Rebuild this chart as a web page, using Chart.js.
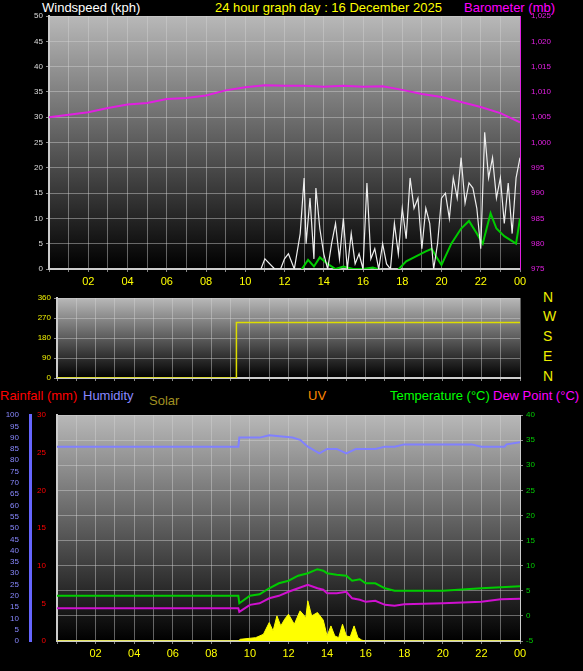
<!DOCTYPE html>
<html><head><meta charset="utf-8">
<script src="https://cdn.jsdelivr.net/npm/chart.js@4"></script>
<style>
body{margin:0;background:#000;width:583px;height:671px;overflow:hidden;font-family:"Liberation Sans",Arial,sans-serif}
canvas{position:absolute;left:0}
.t{position:absolute;font-size:13px;white-space:nowrap}
.d{position:absolute;left:543px;font-size:14px;color:#ee0}
</style></head><body>
<div class="t" style="left:42px;top:0;color:#fff">Windspeed (kph)</div>
<div class="t" style="left:215px;top:0;color:#ff0">24 hour graph day : 16 December 2025</div>
<div class="t" style="left:464px;top:0;color:#f0f">Barometer (mb)</div>
<div class="t" style="left:0;top:388px;color:#f00">Rainfall (mm)</div>
<div class="t" style="left:83px;top:388px;color:#88f">Humidity</div>
<div class="t" style="left:149px;top:393px;color:#a09020">Solar</div>
<div class="t" style="left:308px;top:388px;color:#f80">UV</div>
<div class="t" style="left:390px;top:388px;color:#0f0">Temperature (°C)</div>
<div class="t" style="left:493px;top:388px;color:#f0f">Dew Point (°C)</div>
<div class="d" style="top:289px">N</div><div class="d" style="top:308px">W</div><div class="d" style="top:328px">S</div><div class="d" style="top:348px">E</div><div class="d" style="top:368px">N</div>
<canvas id="c1" width="583" height="290" style="top:0"></canvas>
<canvas id="c2" width="583" height="100" style="top:290px"></canvas>
<canvas id="c3" width="583" height="281" style="top:390px"></canvas>
<script>
// hours of day 0..24
let baroHours=[0,1,2,3,4,5,6,7,8,9,10,11,12,13,14,15,16,17,18,19,20,21,22,23,24];
let baro=[1005,1005.5,1006,1006.8,1007.5,1007.8,1008.6,1008.8,1009.3,1010.3,1010.9,1011.3,1011.2,1011.2,1011,1011.2,1011,1011.1,1010.4,1009.6,1009,1008,1007,1005.8,1004];
let avgHours=[0,12.8,13.2,13.5,13.8,14.2,14.6,15,15.5,16,16.5,17,17.7,18.2,18.7,19.2,19.5,19.8,20,20.5,21,21.4,21.8,22.1,22.5,22.8,23.2,23.6,23.8,24];
let avgWind=[-0.5,-0.5,1.8,0.5,2.3,1,0,0.5,0,0,0.3,-0.3,-0.5,1.5,2.5,3.5,4,2,0.8,5,8,9.5,7,5,11,8,6.5,5.5,5,10];
let gustHours=[10.8,11,11.5,11.8,12,12.2,12.5,12.8,13,13.1,13.3,13.5,13.6,13.8,14,14.2,14.4,14.6,14.8,15,15.2,15.4,15.6,15.8,16,16.2,16.4,16.6,16.8,17,17.2,17.4,17.6,17.8,18,18.2,18.4,18.6,18.8,19,19.2,19.4,19.6,19.8,20,20.2,20.4,20.6,20.8,21,21.2,21.4,21.6,21.8,22,22.2,22.4,22.6,22.8,23,23.2,23.4,23.6,23.8,24];
let gust=[0,2,0,0,2,3,0,7,18,5,14,2,16,8,3,0,5,9,2,10,0,7,1,3,0,17,2,4,0,5,1,0,9,3,12,6,18,12,14,4,12,9,0,5,14,15,10,18,14,22,13,17,16,12,4,27,18,22,14,18,9,17,7,18,22];
let dirHours=[0,9.3,9.3,24];
let dir=[0,0,250,250];
let humHours=[0,9.4,9.45,10.5,11,12.2,12.6,13,13.6,14,14.5,15,15.5,16,16.5,17,17.5,18,21.5,22,22.5,23.2,23.3,24];
let hum=[86,86,90,90,91,90,89,86,83,85,85,83,85,85,85,86,86,87,87,86,86,86,87,88];
let tHours=[0,9.4,9.45,10,10.5,11,11.5,12,12.5,13,13.5,13.8,14,14.5,15,15.3,15.7,16,16.5,17,17.5,18,20,22,23,24];
let temp=[4,4,2.5,4,4.3,5.5,6.5,7,8,8.5,9.3,9,8.5,8.2,8,7,7.3,6.5,6.5,5.5,5,5,5,5.5,5.7,5.9];
let dewp=[1.5,1.5,0.8,2.2,2.5,3.5,4,4.8,5.5,6.2,5.5,5.2,4.5,4.5,4.8,3.5,3.2,2.8,3,2.2,2,2.3,2.5,2.8,3.3,3.4];
let solHours=[0,9.4,9.5,10.3,10.7,11,11.2,11.4,11.6,11.8,12,12.3,12.6,12.9,13,13.2,13.5,13.8,14,14.2,14.4,14.6,14.8,15,15.2,15.4,15.6,15.8,16,24];
let solar=[0,0,20,40,80,220,120,300,180,260,320,200,360,280,480,300,340,250,60,180,60,40,200,60,50,180,40,10,0,0];
let rainHours=[0,23.2,23.3,24];
let rain=[0,0,0.3,0.3];

const pts=(xs,ys)=>xs.map((x,i)=>({x:x,y:ys[i]}));
const hourTick=v=>v%2===0&&v>0?String(v%24).padStart(2,'0'):'';
const bg={id:'bg',beforeDraw(c){const a=c.chartArea,x=c.ctx;const g=x.createLinearGradient(0,a.top,0,a.bottom);g.addColorStop(0,'#b8b8b8');g.addColorStop(1,'#000');x.save();x.fillStyle=g;x.fillRect(a.left,a.top,a.right-a.left,a.bottom-a.top);x.restore();}};
const grid={color:'rgba(210,210,210,0.45)',borderDash:[1,2],drawTicks:true,tickLength:3,tickColor:'#888'};
const fw=w=>s=>{s.width=w};
const xAx=(h)=>({type:'linear',min:0,max:24,ticks:{stepSize:1,autoSkip:false,maxRotation:0,color:'#ff0',font:{size:11},display:h>0,callback:hourTick},grid:grid,border:{color:'#ccc',width:2},afterFit:s=>{s.height=h}});
const yt=(col,step,extra)=>Object.assign({stepSize:step,autoSkip:false,color:col,font:{size:8}},extra||{});
const base={responsive:false,animation:false,plugins:{legend:{display:false},tooltip:{enabled:false}},elements:{point:{radius:0},line:{borderWidth:1.5,tension:0}}};
Chart.defaults.font.family='"Liberation Sans",Arial,sans-serif';

new Chart(c1,{type:'line',plugins:[bg],data:{datasets:[
 {data:pts(gustHours,gust),borderColor:'#eee',borderWidth:1.2,yAxisID:'y'},
 {data:pts(avgHours,avgWind),borderColor:'#0c0',borderWidth:2,yAxisID:'y'},
 {data:pts(baroHours,baro),borderColor:'#e020e0',borderWidth:2,yAxisID:'y2'}]},
 options:{...base,layout:{padding:{top:16}},scales:{x:xAx(21),
  y:{min:0,max:50,ticks:yt('#ddd',5),grid:grid,border:{color:'#ccc',width:2},afterFit:fw(49)},
  y2:{position:'right',min:975,max:1025,ticks:yt('#e020e0',5),grid:{display:false},border:{color:'#e020e0'},afterFit:fw(63)}}}});

new Chart(c2,{type:'line',plugins:[bg],data:{datasets:[{data:pts(dirHours,dir),borderColor:'#dd0',borderWidth:1.5,yAxisID:'y'}]},
 options:{...base,layout:{padding:{top:8,bottom:12}},scales:{x:xAx(0),
  y:{min:0,max:360,ticks:yt('#ee0',90),grid:grid,border:{color:'#ccc',width:2},afterFit:fw(57)},
  y2:{position:'right',min:0,max:360,ticks:{display:false},grid:{display:false},border:{display:false},afterFit:fw(63)}}}});

new Chart(c3,{type:'line',plugins:[bg],data:{datasets:[
 {data:pts(rainHours,rain),borderColor:'#f00',borderWidth:4,yAxisID:'r'},
 {data:pts(solHours,solar),borderColor:'#ff0',backgroundColor:'#ff0',fill:'origin',borderWidth:1,yAxisID:'s'},
 {data:pts(humHours,hum),borderColor:'#8080ff',borderWidth:2,yAxisID:'h'},
 {data:pts(tHours,temp),borderColor:'#0c0',borderWidth:2,yAxisID:'t'},
 {data:pts(tHours,dewp),borderColor:'#d010d0',borderWidth:2,yAxisID:'t'}]},
 options:{...base,layout:{padding:{top:25}},scales:{x:xAx(30),
  r:{position:'left',min:0,max:30,ticks:yt('#f00',5),grid:{display:false},border:{color:'#ccc',width:2},afterFit:fw(27)},
  h:{position:'left',min:0,max:100,ticks:yt('#88f',5),grid:{display:false},border:{color:'#66f',width:3},afterFit:fw(30)},
  s:{display:false,min:0,max:2700},
  t:{position:'right',min:-5,max:40,ticks:yt('#0c0',5),grid:grid,border:{color:'#ccc'},afterFit:fw(63)}}}});
</script></body></html>
